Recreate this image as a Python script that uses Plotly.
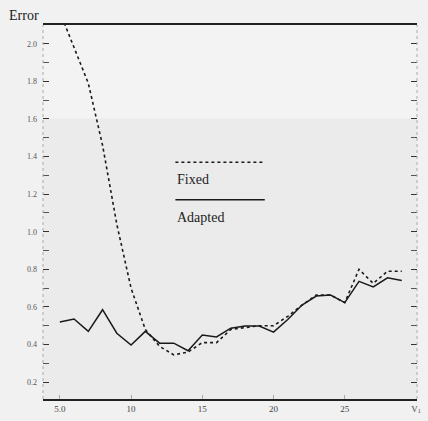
import plotly.graph_objects as go

x_vals = list(range(5, 30))
fixed = [2.17, 1.98, 1.79, 1.46, 1.04, 0.70, 0.48, 0.39, 0.345, 0.36, 0.41, 0.41, 0.48, 0.49,
         0.50, 0.50, 0.55, 0.61, 0.663, 0.663, 0.623, 0.80, 0.725, 0.79, 0.79]
adapted = [0.52, 0.536, 0.47, 0.585, 0.46, 0.397, 0.47, 0.407, 0.407, 0.367, 0.45, 0.44, 0.487,
           0.498, 0.498, 0.466, 0.533, 0.61, 0.658, 0.663, 0.623, 0.736, 0.706, 0.755, 0.74]
x_ticks = [5, 10, 15, 20, 25, 30]
x_ticktext = ["5.0", "10", "15", "20", "25", "V<sub>1</sub>"]
y_ticks = [0.2, 0.4, 0.6, 0.8, 1.0, 1.2, 1.4, 1.6, 1.8, 2.0]
y_ticktext = ["0.2", "0.4", "0.6", "0.8", "1.0", "1.2", "1.4", "1.6", "1.8", "2.0"]

serif = "Liberation Serif, Times New Roman, serif"

fig = go.Figure()
fig.add_trace(go.Scatter(x=x_vals, y=fixed, mode="lines", name="Fixed",
                         line=dict(color="#1a1a1a", width=1.6, dash="dot")))
fig.add_trace(go.Scatter(x=x_vals, y=adapted, mode="lines", name="Adapted",
                         line=dict(color="#1a1a1a", width=1.5)))

fig.update_layout(
    width=428, height=421,
    margin=dict(l=43, r=7, t=25, b=17),
    paper_bgcolor="#f1f1f1", plot_bgcolor="#ebebeb",
    showlegend=False,
    font=dict(family=serif, color="#333"),
    xaxis=dict(range=[3.82, 30.07], tickvals=x_ticks, ticktext=x_ticktext,
               ticks="inside", ticklen=4, tickcolor="#aaa", tickwidth=1,
               showline=True, linecolor="#222", linewidth=1.5, mirror=True,
               showgrid=False, zeroline=False,
               tickfont=dict(size=9, color="#444", family=serif)),
    yaxis=dict(range=[0.11, 2.10], tickvals=y_ticks, ticktext=y_ticktext,
               ticks="inside", ticklen=6, tickcolor="#333", tickwidth=1.2,
               mirror="ticks", showline=False, ticklabelstandoff=5,
               minor=dict(dtick=0.1, tick0=0.1, ticks="inside", ticklen=6,
                          tickcolor="#555", tickwidth=1),
               showgrid=False, zeroline=False,
               tickfont=dict(size=8, color="#555", family=serif)),
)

# lighter upper area of the scanned page
fig.add_shape(type="rect", xref="paper", yref="paper", x0=0, x1=1, y0=0.75, y1=1,
              fillcolor="#f3f3f3", line=dict(width=0), layer="below")

# faint dotted side axes
fig.add_shape(type="line", xref="paper", yref="paper", x0=0, x1=0, y0=0, y1=1,
              line=dict(color="#aaa", width=1, dash="dot"))
fig.add_shape(type="line", xref="paper", yref="paper", x0=1, x1=1, y0=0, y1=1,
              line=dict(color="#aaa", width=1, dash="dot"))

# in-plot legend
fig.add_shape(type="line", xref="paper", yref="paper", x0=0.354, x1=0.59, y0=0.633, y1=0.633,
              line=dict(color="#1a1a1a", width=1.5, dash="dot"))
fig.add_shape(type="line", xref="paper", yref="paper", x0=0.354, x1=0.593, y0=0.533, y1=0.533,
              line=dict(color="#1a1a1a", width=1.5))
fig.add_annotation(text="Fixed", xref="paper", yref="paper", x=0.354, y=0.586,
                   xanchor="left", yanchor="middle", showarrow=False,
                   font=dict(size=14, color="#222", family=serif))
fig.add_annotation(text="Adapted", xref="paper", yref="paper", x=0.354, y=0.486,
                   xanchor="left", yanchor="middle", showarrow=False,
                   font=dict(size=14, color="#222", family=serif))

# axis title
fig.add_annotation(text="Error", xref="paper", yref="paper", x=-0.095, y=1.0,
                   xanchor="left", yanchor="bottom", showarrow=False,
                   font=dict(size=14, color="#222", family=serif))

fig.write_html("out.html")
